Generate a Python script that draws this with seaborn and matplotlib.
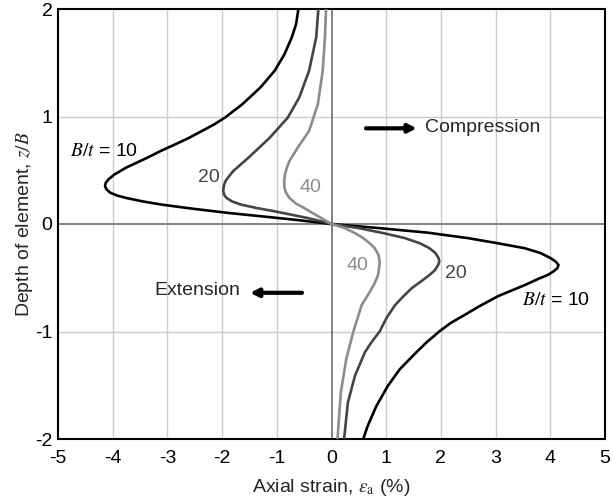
import matplotlib
matplotlib.use("Agg")
import matplotlib.pyplot as plt
import seaborn as sns
import pandas as pd

# ---- data ----
z_10 = [2.0, 1.86, 1.736, 1.58, 1.425, 1.27, 1.114, 0.989, 0.925, 0.865, 0.80, 0.74, 0.68, 0.616,
        0.523, 0.46,
        0.414, 0.38, 0.35, 0.32, 0.29, 0.265, 0.243, 0.21, 0.18, 0.143, 0.103, 0.07, 0.04, 0.0,
        -0.0375, -0.08, -0.131, -0.18, -0.225, -0.27, -0.319, -0.35, -0.381, -0.41, -0.444,
        -0.475, -0.506, -0.569, -0.67, -0.76, -0.85, -0.92, -1.0, -1.1, -1.194, -1.35, -1.506,
        -1.694, -1.88, -2.0]
x_10 = [-0.605, -0.647, -0.726, -0.859, -1.04, -1.30, -1.63, -1.95, -2.15, -2.37, -2.61, -2.86,
        -3.12, -3.37, -3.76,
        -3.97, -4.08, -4.13, -4.14, -4.11, -4.04, -3.92, -3.76, -3.45, -3.10, -2.55, -1.89,
        -1.25, -0.68, 0.0,
        0.85, 1.75, 2.49, 3.05, 3.53, 3.82, 4.01, 4.10, 4.15, 4.13, 4.05,
        3.95, 3.80, 3.53, 3.05, 2.72, 2.42, 2.18, 1.97, 1.74, 1.55, 1.25, 1.03,
        0.82, 0.66, 0.58]

z_20 = [2.0, 1.736, 1.425, 1.176, 0.989, 0.802, 0.616, 0.491, 0.44, 0.398, 0.35, 0.305, 0.27,
        0.243, 0.21, 0.18, 0.15, 0.118, 0.085, 0.056, 0.025, 0.0,
        -0.0375, -0.085, -0.131, -0.18, -0.225, -0.27, -0.319, -0.35, -0.381, -0.43, -0.475,
        -0.54, -0.60, -0.68, -0.756, -0.87, -1.0, -1.1, -1.194, -1.41, -1.66, -2.0]
x_20 = [-0.24, -0.28, -0.41, -0.59, -0.80, -1.13, -1.52, -1.80, -1.88, -1.94, -1.97, -1.98,
        -1.96, -1.92, -1.82, -1.65, -1.38, -1.04, -0.72, -0.44, -0.19, 0.0,
        0.49, 0.95, 1.34, 1.62, 1.79, 1.90, 1.96, 1.97, 1.95, 1.89, 1.79,
        1.62, 1.46, 1.30, 1.16, 1.01, 0.88, 0.73, 0.61, 0.43, 0.30, 0.23]

z_40 = [2.0, 1.736, 1.425, 1.114, 0.865, 0.709, 0.585, 0.52, 0.46, 0.40, 0.336, 0.29, 0.243,
        0.19, 0.149, 0.10, 0.056, 0.0,
        -0.0375, -0.085, -0.131, -0.18, -0.225, -0.29, -0.35, -0.41, -0.475, -0.55, -0.631,
        -0.756, -1.0, -1.256, -1.569, -2.0]
x_40 = [-0.10, -0.12, -0.16, -0.25, -0.41, -0.62, -0.77, -0.82, -0.85, -0.865, -0.86, -0.83,
        -0.77, -0.65, -0.50, -0.34, -0.19, 0.0,
        0.24, 0.43, 0.58, 0.70, 0.79, 0.86, 0.88, 0.87, 0.85, 0.79, 0.70,
        0.55, 0.40, 0.27, 0.17, 0.11]

x_ticks = [-5, -4, -3, -2, -1, 0, 1, 2, 3, 4, 5]
y_ticks = [-2, -1, 0, 1, 2]

colors = {"10": "#000000", "20": "#454545", "40": "#8c8c8c"}

df = pd.concat([
    pd.DataFrame({"strain": x_10, "depth": z_10, "Bt": "10"}),
    pd.DataFrame({"strain": x_20, "depth": z_20, "Bt": "20"}),
    pd.DataFrame({"strain": x_40, "depth": z_40, "Bt": "40"}),
], ignore_index=True)

sns.set_theme(style="white")
plt.rcParams["font.family"] = ["Liberation Sans", "DejaVu Sans"]
plt.rcParams["mathtext.fontset"] = "stix"
plt.rcParams["axes.unicode_minus"] = False

fig = plt.figure(figsize=(6.13, 4.97), dpi=100)
ax = fig.add_axes([58 / 613, 1 - 439 / 497, 547 / 613, 430 / 497])

ax.set_xlim(-5, 5)
ax.set_ylim(-2, 2)
for xv in x_ticks:
    if xv not in (-5, 0, 5):
        ax.axvline(xv, color="#cccccc", lw=1.0, zorder=0)
for yv in (-1, 1):
    ax.axhline(yv, color="#cccccc", lw=1.0, zorder=0)
ax.axvline(0, color="#7a7a7a", lw=1.3, zorder=1)
ax.axhline(0, color="#7a7a7a", lw=1.3, zorder=1)

sns.lineplot(data=df, x="strain", y="depth", hue="Bt", palette=colors, sort=False,
             estimator=None, units="Bt", legend=False, ax=ax, lw=1.9, zorder=3)
for line in ax.get_lines():
    line.set_solid_joinstyle("round")
    line.set_solid_capstyle("round")

fs = 14
ax.set_xticks(x_ticks)
ax.set_yticks(y_ticks)
ax.set_xticklabels([str(v) for v in x_ticks])
ax.set_yticklabels([str(v) for v in y_ticks])
ax.tick_params(axis="both", length=0, labelsize=fs, colors="black")
ax.tick_params(axis="x", pad=8)
ax.tick_params(axis="y", pad=4)
for s in ax.spines.values():
    s.set_color("black")
    s.set_linewidth(1.5)

ax.set_xlabel(r"Axial strain, $\varepsilon_{\mathrm{a}}$ (%)", fontsize=fs, labelpad=7)
ax.set_ylabel(r"Depth of element, $z/B$", fontsize=fs, labelpad=0)

ax.text(-4.78, 0.67, r"$B/t$ = 10", fontsize=fs, ha="left", va="center", color="black")
ax.text(3.49, -0.71, r"$B/t$ = 10", fontsize=fs, ha="left", va="center", color="black")
ax.text(-2.24, 0.43, "20", fontsize=fs, ha="center", va="center", color=colors["20"])
ax.text(2.27, -0.46, "20", fontsize=fs, ha="center", va="center", color=colors["20"])
ax.text(-0.39, 0.34, "40", fontsize=fs, ha="center", va="center", color=colors["40"])
ax.text(0.47, -0.39, "40", fontsize=fs, ha="center", va="center", color=colors["40"])

ax.annotate("", xy=(1.56, 0.89), xytext=(0.63, 0.89),
            arrowprops=dict(arrowstyle="-|>", lw=3, color="black", mutation_scale=12,
                            shrinkA=0, shrinkB=0))
ax.text(1.71, 0.90, "Compression", fontsize=fs, ha="left", va="center")
ax.annotate("", xy=(-1.49, -0.64), xytext=(-0.54, -0.64),
            arrowprops=dict(arrowstyle="-|>", lw=3, color="black", mutation_scale=12,
                            shrinkA=0, shrinkB=0))
ax.text(-1.67, -0.62, "Extension", fontsize=fs, ha="right", va="center")

fig.savefig("out.png", dpi=100)
